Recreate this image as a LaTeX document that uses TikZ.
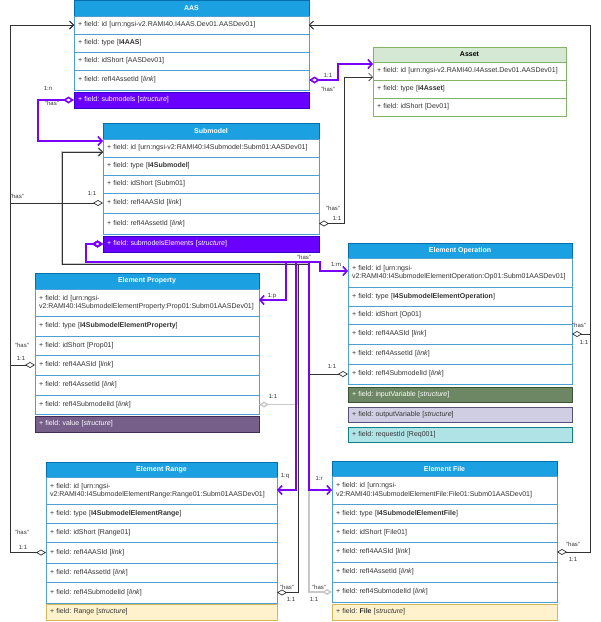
\documentclass[tikz,border=0pt]{standalone}
\usepackage{fontspec}
\setmainfont{Liberation Sans}
\usetikzlibrary{arrows.meta}
\definecolor{hdrfill}{HTML}{1BA1E2}
\definecolor{hdrdraw}{HTML}{006EAF}
\definecolor{rowline}{HTML}{4D9FD6}
\definecolor{txt}{HTML}{333333}
\definecolor{purp}{HTML}{6A00FF}
\definecolor{purpdraw}{HTML}{3700CC}
\definecolor{purpline}{HTML}{7A00FF}
\definecolor{conblack}{HTML}{333333}
\definecolor{congray}{HTML}{C8C8C8}
\definecolor{grfill}{HTML}{D5E8D4}
\definecolor{grdraw}{HTML}{82B366}
\definecolor{valfill}{HTML}{76608A}
\definecolor{valdraw}{HTML}{432D57}
\definecolor{infill}{HTML}{6D8764}
\definecolor{indraw}{HTML}{3A5431}
\definecolor{outfill}{HTML}{D0CEE2}
\definecolor{outdraw}{HTML}{56517E}
\definecolor{reqfill}{HTML}{B0E3E6}
\definecolor{reqdraw}{HTML}{0E8088}
\definecolor{yfill}{HTML}{FFF2CC}
\definecolor{ydraw}{HTML}{D6B656}
\frenchspacing
\begin{document}
\frenchspacing
\begin{tikzpicture}[x=1pt,y=-1pt,
  box/.style={anchor=north west, outer sep=0pt, inner ysep=0pt, line width=0.6pt},
  hdr/.style={box, draw=hdrdraw, fill=hdrfill, text=white, font=\fontsize{7}{8}\selectfont\bfseries, inner xsep=0pt},
  row/.style={box, draw=rowline, fill=white, text=txt, font=\fontsize{7}{8.4}\selectfont\frenchspacing, inner xsep=4pt, align=left},
  purprow/.style={fill=purp, draw=purpdraw, text=white},
  aasR/.style={row, minimum width=235pt, text width=227pt},
  asR/.style={row, draw=grdraw, minimum width=193pt, text width=185pt},
  smR/.style={row, minimum width=216pt, text width=208pt},
  epR/.style={row, minimum width=224pt, text width=216pt},
  eoR/.style={row, minimum width=224pt, text width=216pt},
  erR/.style={row, minimum width=231pt, text width=223pt},
  efR/.style={row, minimum width=225pt, text width=217pt},
  lbl/.style={font=\fontsize{6}{7}\selectfont, text=txt, inner sep=0.5pt},
  bcon/.style={draw=conblack, line width=0.7pt, {Diamond[open,length=10pt,width=6pt]}-{Straight Barb[length=4pt,width=8pt]}},
  gcon/.style={draw=congray, line width=1.4pt, {Diamond[open,length=10pt,width=6pt]}-{Straight Barb[length=4pt,width=8pt]}},
  pcon/.style={draw=purpline, line width=1.6pt, {Diamond[open,length=11pt,width=7pt]}-{Straight Barb[length=4pt,width=9pt]}}
]
\path[use as bounding box] (0,0) rectangle (601,622);

% AAS
\node[hdr, minimum width=235pt, minimum height=16pt] (aasH) at (74,0) {AAS};
\node[aasR, minimum height=18pt] (aasId) at (74,16) {+ field: id [urn:ngsi-v2.RAMI40.I4AAS.Dev01.AASDev01]};
\node[aasR, minimum height=18pt] (aasType) at (74,34) {+ field: type [\textbf{I4AAS}]};
\node[aasR, minimum height=18pt] (aasShort) at (74,52) {+ field: idShort [AASDev01]};
\node[aasR, minimum height=20pt] (aasRef) at (74,70) {+ field: refI4AssetId [\textit{link}]};
\node[aasR, purprow, minimum height=16pt] (aasSub) at (74,92) {+ field: submodels [\textit{structure}]};

% Asset
\node[hdr, fill=grfill, draw=grdraw, text=black, minimum width=193pt, minimum height=15pt] (asH) at (373,47) {Asset};
\node[asR, minimum height=18pt] (asId) at (373,62) {+ field: id [urn:ngsi-v2.RAMI40.I4Asset.Dev01.AASDev01]};
\node[asR, minimum height=18pt] (asType) at (373,80) {+ field: type [\textbf{I4Asset}]};
\node[asR, minimum height=18pt] (asShort) at (373,98) {+ field: idShort [Dev01]};

% Submodel
\node[hdr, minimum width=216pt, minimum height=16pt] (smH) at (103,123) {Submodel};
\node[smR, minimum height=18pt] (smId) at (103,139) {+ field: id [urn:ngsi-v2:RAMI40:I4Submodel:Subm01:AASDev01]};
\node[smR, minimum height=18pt] (smType) at (103,157) {+ field: type [\textbf{I4Submodel}]};
\node[smR, minimum height=18pt] (smShort) at (103,175) {+ field: idShort [Subm01]};
\node[smR, minimum height=20pt] (smRefAAS) at (103,193) {+ field: refI4AASId [\textit{link}]};
\node[smR, minimum height=21pt] (smRefAsset) at (103,213) {+ field: refI4AssetId [\textit{link}]};
\node[smR, purprow, minimum height=16pt] (smSE) at (103,236) {+ field: submodelsElements [\textit{structure}]};

% Element Property
\node[hdr, minimum width=224pt, minimum height=16pt] (epH) at (35,273) {Element Property};
\node[epR, minimum height=27pt] (epId) at (35,289) {+ field: id [urn:ngsi-\\v2:RAMI40:I4SubmodelElementProperty:Prop01:Subm01AASDev01]};
\node[epR, minimum height=20pt] (epType) at (35,316) {+ field: type [\textbf{I4SubmodelElementProperty}]};
\node[epR, minimum height=19pt] (epShort) at (35,336) {+ field: idShort [Prop01]};
\node[epR, minimum height=20pt] (epRefAAS) at (35,355) {+ field: refI4AASId [\textit{link}]};
\node[epR, minimum height=20pt] (epRefAsset) at (35,375) {+ field: refI4AssetId [\textit{link}]};
\node[epR, minimum height=19pt] (epRefSub) at (35,395) {+ field: refI4SubmodelId [\textit{link}]};
\node[epR, fill=valfill, draw=valdraw, text=white, minimum height=16pt] (epVal) at (35,416) {+ field: value [\textit{structure}]};

% Element Operation
\node[hdr, minimum width=224pt, minimum height=15pt] (eoH) at (348,243) {Element Operation};
\node[eoR, minimum height=29pt] (eoId) at (348,258) {+ field: id [urn:ngsi-\\v2:RAMI40:I4SubmodelElementOperation:Op01:Subm01AASDev01]};
\node[eoR, minimum height=19pt] (eoType) at (348,287) {+ field: type [\textbf{I4SubmodelElementOperation}]};
\node[eoR, minimum height=18pt] (eoShort) at (348,306) {+ field: idShort [Op01]};
\node[eoR, minimum height=20pt] (eoRefAAS) at (348,324) {+ field: refI4AASId [\textit{link}]};
\node[eoR, minimum height=20pt] (eoRefAsset) at (348,344) {+ field: refI4AssetId [\textit{link}]};
\node[eoR, minimum height=20pt] (eoRefSub) at (348,364) {+ field: refI4SubmodelId [\textit{link}]};
\node[eoR, fill=infill, draw=indraw, text=white, minimum height=15pt] (eoIn) at (348,387) {+ field: inputVariable [\textit{structure}]};
\node[eoR, fill=outfill, draw=outdraw, minimum height=15pt] (eoOut) at (348,407) {+ field: outputVariable [\textit{structure}]};
\node[eoR, fill=reqfill, draw=reqdraw, minimum height=15pt] (eoReq) at (348,427) {+ field: requestId [Req001]};

% Element Range
\node[hdr, minimum width=231pt, minimum height=15pt] (erH) at (46,462) {Element Range};
\node[erR, minimum height=27pt] (erId) at (46,477) {+ field: id [urn:ngsi-\\v2:RAMI40:I4SubmodelElementRange:Range01:Subm01AASDev01]};
\node[erR, minimum height=19pt] (erType) at (46,504) {+ field: type [\textbf{I4SubmodelElementRange}]};
\node[erR, minimum height=19pt] (erShort) at (46,523) {+ field: idShort [Range01]};
\node[erR, minimum height=21pt] (erRefAAS) at (46,542) {+ field: refI4AASId [\textit{link}]};
\node[erR, minimum height=19pt] (erRefAsset) at (46,563) {+ field: refI4AssetId [\textit{link}]};
\node[erR, minimum height=21pt] (erRefSub) at (46,582) {+ field: refI4SubmodelId [\textit{link}]};
\node[erR, fill=yfill, draw=ydraw, minimum height=16pt] (erRange) at (46,604) {+ field: Range [\textit{structure}]};

% Element File
\node[hdr, minimum width=225pt, minimum height=15pt] (efH) at (332,461) {Element File};
\node[efR, minimum height=28pt] (efId) at (332,476) {+ field: id [urn:ngsi-\\v2:RAMI40:I4SubmodelElementFile:File01:Subm01AASDev01]};
\node[efR, minimum height=19pt] (efType) at (332,504) {+ field: type [\textbf{I4SubmodelElementFile}]};
\node[efR, minimum height=19pt] (efShort) at (332,523) {+ field: idShort [File01]};
\node[efR, minimum height=20pt] (efRefAAS) at (332,542) {+ field: refI4AASId [\textit{link}]};
\node[efR, minimum height=20pt] (efRefAsset) at (332,562) {+ field: refI4AssetId [\textit{link}]};
\node[efR, minimum height=20pt] (efRefSub) at (332,582) {+ field: refI4SubmodelId [\textit{link}]};
\node[efR, fill=yfill, draw=ydraw, minimum height=16pt] (efFile) at (332,604) {+ field: \textbf{File} [\textit{structure}]};

% gray connectors
\draw[gcon] (efRefSub.west) -| (309,264) -| (62,152) -- (smId.west |- 0,152);
\draw[gcon] (epRefSub.east) -| (298,264) -| (62,152) -- (smId.west |- 0,152);

% black connectors
\draw[bcon] (eoRefSub.west) -| (309,264) -| (62,152) -- (smId.west |- 0,152);
\draw[bcon] (erRefSub.east) -| (298,264) -| (62,152) -- (smId.west |- 0,152);
\draw[bcon] (smRefAsset.east) -| (344,77) -- (asId.west |- 0,77);
\draw[bcon] (smRefAAS.west) -| (10,25) -- (aasId.west);
\draw[bcon] (epRefAAS.west) -| (10,25) -- (aasId.west);
\draw[bcon] (erRefAAS.west) -| (10,25) -- (aasId.west);
\draw[bcon] (eoRefAAS.east) -| (590,25) -- (aasId.east);
\draw[bcon] (efRefAAS.east) -| (590,25) -- (aasId.east);

% purple connectors
\draw[pcon] (aasSub.west) -| (38,141) -- (smId.west |- 0,141);
\draw[pcon] (aasRef.east) -| (338,64) -- (asId.west |- 0,64);
\draw[pcon] (smSE.west) -| (86,262) -| (286,300) -- (epId.east |- 0,300);
\draw[pcon] (smSE.west) -| (86,262) -| (296,490) -- (erId.east |- 0,490);
\draw[pcon] (smSE.west) -| (86,262) -| (309,490) -- (efId.west |- 0,490);
\draw[pcon] (smSE.west) -| (86,262) -| (320,271) -- (eoId.west |- 0,271);

% labels
\node[lbl] (l1) at (48,88) {1:n};
\node[lbl] (l2) at (52,103) {"has"};
\node[lbl] (l3) at (328,75) {1:1};
\node[lbl] (l4) at (328,89) {"has"};
\node[lbl] (l5) at (333,208) {"has"};
\node[lbl] (l6) at (337,218) {1:1};
\node[lbl] (l7) at (17,196) {"has"};
\node[lbl] (l8) at (92,193) {1:1};
\node[lbl] (l9) at (22,345) {"has"};
\node[lbl] (l10) at (21,358) {1:1};
\node[lbl] (l11) at (22,532) {"has"};
\node[lbl] (l12) at (23,547) {1:1};
\node[lbl] (l13) at (579,325) {"has"};
\node[lbl] (l14) at (584,342) {1:1};
\node[lbl] (l15) at (573,544) {"has"};
\node[lbl] (l16) at (573,559) {1:1};
\node[lbl] (l17) at (304,257) {"has"};
\node[lbl] (l18) at (272,296) {1:p};
\node[lbl] (l19) at (285,476) {1:q};
\node[lbl] (l20) at (319,478) {1:r};
\node[lbl] (l21) at (336,264) {1:m};
\node[lbl] (l22) at (287,587) {"has"};
\node[lbl] (l23) at (291,599) {1:1};
\node[lbl] (l24) at (319,587) {"has"};
\node[lbl] (l25) at (314,599) {1:1};
\node[lbl] (l26) at (332,366) {1:1};
\node[lbl] (l27) at (273,396) {1:1};
\end{tikzpicture}
\end{document}
